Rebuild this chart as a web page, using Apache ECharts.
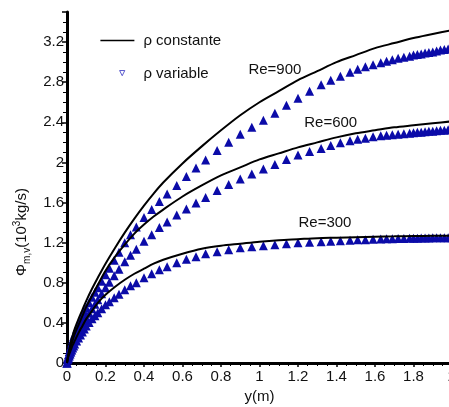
<!DOCTYPE html>
<html><head><meta charset="utf-8">
<script src="https://cdn.jsdelivr.net/npm/echarts@6/dist/echarts.min.js"></script>
<style>html,body{margin:0;padding:0;background:#fff}#c{width:449px;height:407px}</style>
</head><body><div id="c"></div>
<script>
// ---- data ----
const xLine = [0, 0.005, 0.01, 0.02, 0.03, 0.04, 0.06, 0.08, 0.1, 0.13, 0.16, 0.2, 0.25, 0.3, 0.35, 0.4, 0.45, 0.5, 0.6, 0.7, 0.8, 0.9, 1.0, 1.1, 1.2, 1.3, 1.4, 1.5, 1.6, 1.7, 1.8, 1.9, 2.0];
const const900 = [0, 0.07, 0.12, 0.21, 0.28, 0.34, 0.44, 0.53, 0.62, 0.74, 0.85, 0.99, 1.15, 1.30, 1.44, 1.57, 1.69, 1.80, 1.99, 2.16, 2.32, 2.47, 2.60, 2.71, 2.82, 2.91, 3.0, 3.07, 3.14, 3.19, 3.24, 3.28, 3.32];
const const600 = [0, 0.06, 0.10, 0.17, 0.23, 0.29, 0.38, 0.47, 0.56, 0.67, 0.78, 0.92, 1.06, 1.18, 1.29, 1.38, 1.46, 1.53, 1.66, 1.77, 1.87, 1.95, 2.03, 2.09, 2.15, 2.20, 2.25, 2.29, 2.32, 2.35, 2.37, 2.39, 2.41];
const const300 = [0, 0.05, 0.08, 0.13, 0.18, 0.22, 0.30, 0.37, 0.44, 0.52, 0.60, 0.68, 0.76, 0.83, 0.89, 0.94, 0.99, 1.03, 1.09, 1.14, 1.17, 1.19, 1.21, 1.225, 1.235, 1.245, 1.25, 1.255, 1.26, 1.263, 1.266, 1.268, 1.27];

const xVar = [0, 0.004, 0.008, 0.012, 0.016, 0.02, 0.025, 0.03, 0.035, 0.04,
  0.05, 0.06, 0.07, 0.08, 0.09, 0.10, 0.115, 0.13, 0.145, 0.16,
  0.18, 0.20, 0.22, 0.245, 0.27, 0.30, 0.33, 0.36, 0.40, 0.44,
  0.48, 0.52, 0.57, 0.62, 0.67, 0.72, 0.78, 0.84, 0.90, 0.96,
  1.02, 1.08, 1.14, 1.20, 1.26, 1.32, 1.37, 1.42, 1.47, 1.51,
  1.55, 1.59, 1.63, 1.66, 1.69, 1.72, 1.75, 1.78, 1.80, 1.82,
  1.84, 1.86, 1.88, 1.90, 1.92, 1.94, 1.96, 1.98, 2.0];
const var900 = [0, 0.05, 0.085, 0.115, 0.14, 0.165, 0.20, 0.235, 0.265, 0.29,
  0.34, 0.385, 0.43, 0.47, 0.51, 0.55, 0.60, 0.655, 0.705, 0.75,
  0.815, 0.88, 0.945, 1.025, 1.105, 1.20, 1.28, 1.355, 1.45, 1.53,
  1.61, 1.685, 1.77, 1.86, 1.945, 2.025, 2.12, 2.20, 2.28, 2.35,
  2.42, 2.49, 2.57, 2.64, 2.71, 2.775, 2.82, 2.86, 2.90, 2.93,
  2.955, 2.975, 2.995, 3.01, 3.025, 3.04, 3.05, 3.06, 3.07, 3.075,
  3.08, 3.09, 3.095, 3.10, 3.11, 3.12, 3.125, 3.13, 3.14];
const var600 = [0, 0.04, 0.07, 0.09, 0.11, 0.13, 0.165, 0.20, 0.22, 0.24,
  0.28, 0.315, 0.35, 0.385, 0.42, 0.45, 0.495, 0.54, 0.585, 0.63,
  0.69, 0.75, 0.805, 0.87, 0.935, 1.01, 1.075, 1.135, 1.215, 1.28,
  1.35, 1.405, 1.475, 1.535, 1.595, 1.65, 1.72, 1.78, 1.835, 1.885,
  1.935, 1.98, 2.03, 2.075, 2.11, 2.14, 2.17, 2.195, 2.215, 2.23,
  2.24, 2.255, 2.265, 2.27, 2.275, 2.28, 2.285, 2.29, 2.295, 2.30,
  2.30, 2.305, 2.31, 2.31, 2.315, 2.32, 2.32, 2.325, 2.33];
const var300 = [0, 0.03, 0.05, 0.07, 0.09, 0.11, 0.13, 0.15, 0.17, 0.19,
  0.22, 0.25, 0.28, 0.31, 0.34, 0.37, 0.405, 0.44, 0.47, 0.50,
  0.54, 0.58, 0.61, 0.65, 0.685, 0.73, 0.77, 0.80, 0.85, 0.89,
  0.93, 0.96, 1.00, 1.035, 1.06, 1.09, 1.11, 1.13, 1.15, 1.16,
  1.17, 1.18, 1.19, 1.20, 1.205, 1.21, 1.215, 1.22, 1.225, 1.228,
  1.23, 1.233, 1.236, 1.238, 1.24, 1.241, 1.242, 1.243, 1.244, 1.245,
  1.246, 1.247, 1.247, 1.248, 1.248, 1.249, 1.25, 1.25, 1.25];

const seriesConst = 'ρ constante';
const seriesVar = 'ρ variable';
const reLabels = ['Re=900', 'Re=600', 'Re=300'];
const reLabelPos = [[1.08, 2.92], [1.37, 2.39], [1.34, 1.40]];

// ---- chart ----
const FONT = '"Liberation Sans", Arial, sans-serif';
const pair = (xs, ys) => xs.map((x, i) => [x, ys[i]]);
const chart = echarts.init(document.getElementById('c'), null, {renderer: 'canvas'});

const lineSeries = [const900, const600, const300].map(d => ({
  name: seriesConst, type: 'line', data: pair(xLine, d), symbol: 'none',
  smooth: 0.3,
  lineStyle: {color: '#000', width: 2}, itemStyle: {color: '#000'}, z: 3
}));
const scatterSeries = [var900, var600, var300].map(d => ({
  name: seriesVar, type: 'scatter', data: pair(xVar, d),
  symbol: 'triangle', symbolSize: 9,
  itemStyle: {color: '#0b0ba8', opacity: 1}, z: 2
}));

const option = {
  animation: false,
  backgroundColor: '#fff',
  grid: {left: 67, top: 12, right: -3, bottom: 44, containLabel: false, outerBoundsMode: 'none'},
  legend: {
    orient: 'vertical', left: 95, top: 28, itemGap: 18,
    itemWidth: 34, itemHeight: 14,
    textStyle: {fontFamily: FONT, fontSize: 15, color: '#111', padding: [0, 0, 0, 4]},
    data: [
      {name: seriesConst, icon: 'path://M0,0L34,0L34,1.3L0,1.3Z', itemStyle: {color: '#000'}},
      {name: seriesVar, icon: 'path://M-26,-5M20,13M0,0L7,0L3.5,7Z', itemStyle: {color: '#fff', borderColor: '#3030c0', borderWidth: 0.8}}
    ]
  },
  xAxis: [{
    type: 'value', min: 0, max: 2, interval: 0.2,
    name: 'y(m)', nameLocation: 'middle', nameGap: 24,
    nameTextStyle: {fontFamily: FONT, fontSize: 15, color: '#111'},
    axisLine: {onZero: false, lineStyle: {color: '#000', width: 3}},
    axisTick: {show: true, inside: false, length: 4, lineStyle: {color: '#000', width: 1.5}},
    minorTick: {show: true, splitNumber: 4, length: 3, lineStyle: {color: '#000', width: 1}},
    axisLabel: {fontFamily: FONT, fontSize: 15, color: '#111', margin: 6},
    splitLine: {show: false}
  }, {
    type: 'value', position: 'top', min: 0, max: 2,
    axisLine: {show: true, lineStyle: {color: '#000', width: 2}},
    axisTick: {show: false}, axisLabel: {show: false}, splitLine: {show: false}
  }],
  yAxis: {
    type: 'value', min: 0, max: 3.5, interval: 0.4,
    axisLine: {onZero: false, lineStyle: {color: '#000', width: 3}},
    axisTick: {show: true, inside: false, length: 5, lineStyle: {color: '#000', width: 1.5}},
    minorTick: {show: true, splitNumber: 4, length: 4, lineStyle: {color: '#000', width: 1}},
    axisLabel: {fontFamily: FONT, fontSize: 15, color: '#111', margin: 3, showMaxLabel: false},
    splitLine: {show: false}
  },
  series: [...lineSeries, ...scatterSeries]
};
chart.setOption(option);

const labelGraphics = reLabels.map((t, i) => {
  const p = chart.convertToPixel({gridIndex: 0}, reLabelPos[i]);
  return {type: 'text', x: p[0], y: p[1], z: 10,
    style: {text: t, fontFamily: FONT, fontSize: 15, fill: '#111', align: 'center', verticalAlign: 'middle'}};
});
labelGraphics.push({
  type: 'text', x: 22, y: 232, rotation: Math.PI / 2, z: 10,
  style: {
    text: '{a|Φ}{s|m,v}{a|(10}{p|3}{a|kg/s)}',
    align: 'center', verticalAlign: 'middle', fill: '#111',
    rich: {
      a: {fontFamily: FONT, fontSize: 15, fill: '#111', lineHeight: 20, verticalAlign: 'middle'},
      s: {fontFamily: FONT, fontSize: 10, fill: '#111', lineHeight: 20, verticalAlign: 'bottom'},
      p: {fontFamily: FONT, fontSize: 10, fill: '#111', lineHeight: 20, verticalAlign: 'top'}
    }
  }
});
chart.setOption({graphic: labelGraphics});
</script>
</body></html>
